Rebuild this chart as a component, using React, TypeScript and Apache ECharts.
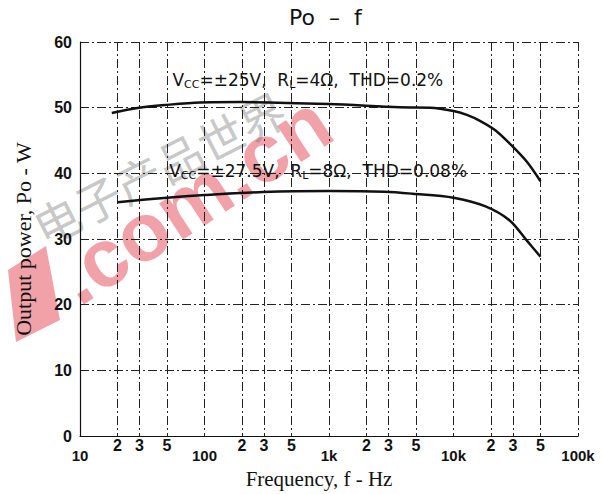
import React, { useEffect, useRef } from "react";
import * as echarts from "echarts";

const freqUpper = [18, 29, 48, 92, 193, 1000, 3700, 6500, 10000, 12800, 16300, 21900, 28400, 38700, 50000];
const powerUpper = [49.2, 49.95, 50.4, 50.8, 50.85, 50.55, 50.05, 50.0, 49.5, 48.9, 48.0, 46.5, 44.5, 41.8, 38.8];
const freqLower = [20, 50, 100, 295, 1000, 2800, 4700, 10000, 17900, 28400, 38700, 50000];
const powerLower = [35.6, 36.3, 36.7, 37.15, 37.3, 37.2, 36.9, 36.3, 35.0, 32.8, 29.8, 27.3];

const majorTicks = [10, 100, 1000, 10000, 100000];
const majorLabels = ["10", "100", "1k", "10k", "100k"];
const minorTicks = [20, 30, 50, 200, 300, 500, 2000, 3000, 5000, 20000, 30000, 50000];
const minorLabels = ["2", "3", "5", "2", "3", "5", "2", "3", "5", "2", "3", "5"];
const yTicks = [0, 10, 20, 30, 40, 50, 60];

const upperNote = { freq: 676, power: 54.2 };
const lowerNote = { freq: 818, power: 40.35 };

const LABEL_FONT = "'Liberation Sans Narrow', 'Liberation Sans', Arial, sans-serif";
const GRID_DASH = [9, 3, 2, 3];

function closest(list: number[], v: number) {
  let best = 0;
  for (let i = 1; i < list.length; i++) {
    if (Math.abs(Math.log10(list[i]) - Math.log10(v)) < Math.abs(Math.log10(list[best]) - Math.log10(v))) best = i;
  }
  return best;
}

const rich = {
  n: { fontFamily: "'DejaVu Sans', sans-serif", fontSize: 17, color: "#111", lineHeight: 20 },
  s: { fontFamily: "'DejaVu Sans', sans-serif", fontSize: 11, color: "#111", lineHeight: 13, verticalAlign: "bottom" },
};

export default function App() {
  const ref = useRef<HTMLDivElement>(null);
  useEffect(() => {
    document.body.style.margin = "0";
    const chart = echarts.init(ref.current!, null, { renderer: "svg" });
    chart.setOption({
      animation: false,
      backgroundColor: "#fff",
      title: {
        text: "Po  –  f",
        left: 284,
        top: 1,
        textStyle: { fontFamily: "'DejaVu Sans', sans-serif", fontSize: 22, fontWeight: "normal", color: "#111" },
      },
      grid: { left: 80, right: 24, top: 42, bottom: 52 },
      xAxis: [
        {
          type: "log",
          logBase: 10,
          min: 10,
          max: 100000,
          name: "Frequency, f - Hz",
          nameLocation: "middle",
          nameGap: 26,
          nameTextStyle: {
            fontFamily: "'Liberation Serif', 'Times New Roman', serif",
            fontSize: 21,
            color: "#111",
            padding: [0, 20, 0, 0],
          },
          axisLine: { show: true, lineStyle: { color: "#111", width: 1.2 } },
          axisTick: { show: false, customValues: majorTicks },
          axisLabel: {
            customValues: majorTicks,
            margin: 12,
            fontFamily: LABEL_FONT,
            fontWeight: "bold",
            fontSize: 15,
            color: "#111",
            formatter: (v: number) => majorLabels[closest(majorTicks, v)],
          },
          splitLine: { show: true, lineStyle: { color: "#222", width: 1, type: GRID_DASH } },
        },
        {
          type: "log",
          logBase: 10,
          min: 10,
          max: 100000,
          position: "bottom",
          axisLine: { show: false },
          axisTick: { show: false, customValues: minorTicks },
          axisLabel: {
            customValues: minorTicks,
            margin: 1,
            fontFamily: LABEL_FONT,
            fontWeight: "bold",
            fontSize: 16,
            color: "#111",
            formatter: (v: number) => minorLabels[closest(minorTicks, v)],
          },
          splitLine: { show: true, lineStyle: { color: "#222", width: 1, type: GRID_DASH } },
        },
      ],
      yAxis: {
        type: "value",
        min: 0,
        max: 60,
        interval: 10,
        name: "Output power, Po - W",
        nameLocation: "middle",
        nameGap: 46,
        nameTextStyle: {
          fontFamily: "'Liberation Serif', 'Times New Roman', serif",
          fontSize: 22,
          color: "#111",
        },
        axisLine: { show: true, lineStyle: { color: "#111", width: 1.2 } },
        axisTick: { show: false },
        axisLabel: {
          margin: 8,
          fontFamily: LABEL_FONT,
          fontWeight: "bold",
          fontSize: 16,
          color: "#111",
          formatter: (v: number) => String(yTicks[yTicks.indexOf(v)] ?? v),
        },
        splitLine: { show: true, lineStyle: { color: "#222", width: 1, type: GRID_DASH } },
      },
      graphic: [
        {
          type: "polygon",
          z: -10,
          shape: { points: [[8, 270], [46, 246], [60, 320], [16, 342]] },
          style: { fill: "rgba(226,70,82,0.5)" },
        },
        {
          type: "text",
          z: -10,
          x: 86,
          y: 318,
          rotation: 0.58,
          style: {
            text: ".com.cn",
            font: "bold 82px 'Liberation Sans', Arial, sans-serif",
            fill: "rgba(226,70,82,0.5)",
            textAlign: "left",
            textVerticalAlign: "bottom",
            align: "left",
            verticalAlign: "bottom",
          },
        },
        {
          type: "text",
          z: -10,
          x: 46,
          y: 250,
          rotation: 0.47,
          style: {
            text: "电子产品世界",
            font: "46px 'Noto Sans CJK SC', sans-serif",
            fill: "rgba(110,110,110,0.4)",
            textAlign: "left",
            textVerticalAlign: "bottom",
            align: "left",
            verticalAlign: "bottom",
          },
        },
      ],
      series: [
        {
          type: "line",
          name: "4Ω",
          xAxisIndex: 0,
          data: freqUpper.map((f, i) => [f, powerUpper[i]]),
          smooth: 0.3,
          showSymbol: false,
          lineStyle: { color: "#111", width: 2.5 },
          markPoint: {
            symbol: "circle",
            symbolSize: 1,
            itemStyle: { color: "transparent" },
            label: {
              show: true,
              position: "inside",
              formatter: "{n|V}{s|CC}{n|=±25V,  R}{s|L}{n|=4Ω,  THD=0.2%}",
              rich,
            },
            data: [{ coord: [upperNote.freq, upperNote.power] }],
          },
          z: 5,
        },
        {
          type: "line",
          name: "8Ω",
          xAxisIndex: 0,
          data: freqLower.map((f, i) => [f, powerLower[i]]),
          smooth: 0.3,
          showSymbol: false,
          lineStyle: { color: "#111", width: 2.5 },
          markPoint: {
            symbol: "circle",
            symbolSize: 1,
            itemStyle: { color: "transparent" },
            label: {
              show: true,
              position: "inside",
              formatter: "{n|V}{s|CC}{n|=±27.5V,  R}{s|L}{n|=8Ω,  THD=0.08%}",
              rich,
            },
            data: [{ coord: [lowerNote.freq, lowerNote.power] }],
          },
          z: 5,
        },
      ],
    });
    return () => chart.dispose();
  }, []);
  return (
    <div
      ref={ref}
      style={{ position: "absolute", left: 0, top: 0, width: 602, height: 494 }}
    />
  );
}
